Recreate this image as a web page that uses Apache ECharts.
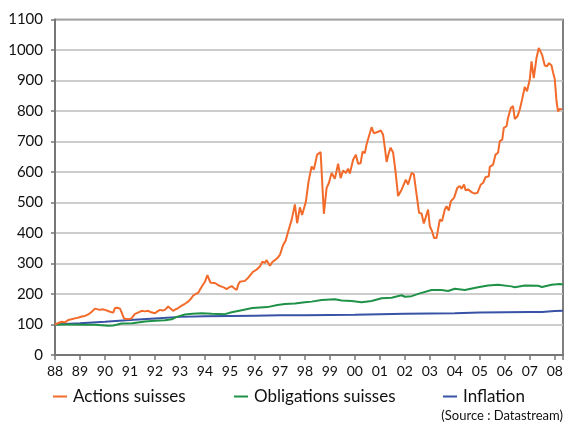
<!DOCTYPE html>
<html><head><meta charset="utf-8">
<script src="https://cdn.jsdelivr.net/npm/echarts@6/dist/echarts.min.js"></script>
<style>html,body{margin:0;padding:0;background:#fff}#c{width:568px;height:432px}</style>
</head><body><div id="c"></div>
<script>
const yTicks = [0,100,200,300,400,500,600,700,800,900,1000,1100];
const seriesNames = ['Actions suisses','Obligations suisses','Inflation'];
const actions = [[1988.0,100],[1988.1,104],[1988.27,109],[1988.4,107],[1988.53,115],[1988.7,118],[1988.8,120],[1988.95,123],[1989.07,126],[1989.2,128],[1989.33,133],[1989.47,142],[1989.6,152],[1989.67,156],[1989.8,148],[1989.9,150],[1990.0,148],[1990.1,145],[1990.2,142],[1990.33,139],[1990.4,154],[1990.5,155],[1990.6,152],[1990.67,139],[1990.76,120],[1990.85,118],[1990.93,118],[1991.05,119],[1991.1,120],[1991.2,135],[1991.3,138],[1991.47,145],[1991.6,143],[1991.73,145],[1991.85,140],[1992.0,137],[1992.1,143],[1992.2,148],[1992.3,146],[1992.4,148],[1992.53,159],[1992.63,152],[1992.73,145],[1992.83,150],[1992.93,154],[1993.0,156],[1993.07,162],[1993.2,168],[1993.33,175],[1993.45,185],[1993.53,195],[1993.63,200],[1993.73,204],[1993.87,224],[1994.0,240],[1994.1,262],[1994.18,245],[1994.23,237],[1994.4,236],[1994.55,228],[1994.67,224],[1994.77,221],[1994.87,216],[1994.97,222],[1995.07,226],[1995.17,219],[1995.27,213],[1995.33,230],[1995.4,240],[1995.6,243],[1995.75,255],[1995.93,273],[1996.07,280],[1996.2,290],[1996.3,306],[1996.4,302],[1996.47,311],[1996.6,293],[1996.7,305],[1996.8,311],[1996.9,318],[1997.0,328],[1997.13,361],[1997.23,375],[1997.33,404],[1997.47,443],[1997.6,494],[1997.69,432],[1997.8,484],[1997.89,459],[1998.04,503],[1998.15,570],[1998.27,618],[1998.36,608],[1998.49,657],[1998.63,665],[1998.76,463],[1998.87,548],[1998.96,564],[1999.07,597],[1999.2,578],[1999.33,627],[1999.43,580],[1999.53,605],[1999.64,597],[1999.73,611],[1999.8,595],[1999.93,640],[2000.04,657],[2000.13,627],[2000.23,629],[2000.31,667],[2000.4,662],[2000.47,691],[2000.53,697],[2000.67,747],[2000.76,727],[2000.93,732],[2001.04,736],[2001.13,722],[2001.2,680],[2001.27,633],[2001.35,660],[2001.43,680],[2001.53,664],[2001.63,600],[2001.73,521],[2001.87,542],[2002.04,575],[2002.13,559],[2002.27,597],[2002.36,593],[2002.44,591],[2002.57,466],[2002.67,464],[2002.76,431],[2002.93,477],[2003.0,422],[2003.09,406],[2003.17,384],[2003.27,384],[2003.4,444],[2003.49,439],[2003.6,477],[2003.67,488],[2003.76,474],[2003.84,504],[2003.97,515],[2004.1,548],[2004.2,554],[2004.27,545],[2004.37,559],[2004.43,540],[2004.53,543],[2004.67,534],[2004.8,529],[2004.91,532],[2005.04,559],[2005.13,564],[2005.23,583],[2005.36,586],[2005.4,617],[2005.53,624],[2005.63,657],[2005.73,663],[2005.8,701],[2005.9,706],[2005.96,745],[2006.07,750],[2006.13,777],[2006.24,810],[2006.33,816],[2006.4,774],[2006.51,783],[2006.6,805],[2006.69,837],[2006.8,879],[2006.89,865],[2007.0,903],[2007.07,963],[2007.16,908],[2007.27,974],[2007.36,1007],[2007.43,1012],[2007.49,985],[2007.6,949],[2007.69,947],[2007.77,957],[2007.87,949],[2007.93,927],[2008.0,905],[2008.07,832],[2008.13,799],[2008.2,807],[2008.29,805]];
const obligations = [[1988.0,100],[1988.6,100],[1989.2,99],[1989.6,99],[1990.13,96],[1990.33,97],[1990.67,103],[1991.1,104],[1991.6,110],[1992.0,112],[1992.4,114],[1992.67,117],[1992.87,125],[1993.2,133],[1993.5,135],[1993.87,137],[1994.27,135],[1994.8,134],[1995.07,140],[1995.47,147],[1995.9,154],[1996.5,157],[1996.9,164],[1997.2,167],[1997.6,169],[1998.0,173],[1998.27,175],[1998.67,180],[1999.2,183],[1999.47,179],[1999.87,177],[2000.27,173],[2000.67,177],[2001.07,186],[2001.47,188],[2001.87,196],[2002.0,191],[2002.27,193],[2002.6,202],[2003.07,213],[2003.47,213],[2003.73,210],[2004.0,217],[2004.4,213],[2004.93,222],[2005.33,228],[2005.73,230],[2006.27,225],[2006.4,222],[2006.8,228],[2007.33,227],[2007.49,223],[2007.87,230],[2008.2,233],[2008.33,231]];
const inflation = [[1988.0,100],[1989.0,104],[1990.0,109],[1991.0,115],[1992.0,120],[1993.0,125],[1994.0,127],[1995.0,128],[1996.0,129],[1997.0,130],[1998.0,130],[1999.0,131],[2000.0,132],[2001.0,134],[2002.0,135],[2003.0,136],[2004.0,137],[2005.0,139],[2006.0,140],[2007.0,141],[2007.5,141],[2008.0,144],[2008.33,145]];
const colors = ['#f26b2b','#1f9248','#3853a6'];
const FONT = 'Lato';

const chart = echarts.init(document.getElementById('c'), null, {renderer:'canvas'});
const mkLegend = (i, left) => ({
  data:[seriesNames[i]], left: left, top: 383, icon:'rect', itemWidth:14, itemHeight:2, itemGap:0,
  textStyle:{fontFamily:FONT, fontSize:17, color:'#111', padding:[0,0,0,1]},
  selectedMode:false
});
chart.setOption({
  animation:false,
  grid:{left:55, right:5, top:19.5, bottom:77, show:true, borderColor:'#555', borderWidth:1.5},
  legend:[mkLegend(0,48), mkLegend(1,229), mkLegend(2,438)],
  graphic:[{type:'text', right:5, top:409, style:{text:'(Source : Datastream)', fontFamily:FONT, fontSize:13, fill:'#111'}}],
  xAxis:{type:'value', min:1988, max:2008.33, interval:1,
    axisLine:{show:true, lineStyle:{color:'#777', width:2}},
    axisTick:{show:true, length:5, lineStyle:{color:'#777', width:1.5}},
    splitLine:{show:false},
    axisLabel:{fontFamily:FONT, fontSize:14, color:'#111', margin:9,
      formatter:v => (Math.abs(v-Math.round(v))<1e-6) ? String(Math.round(v)%100).padStart(2,'0') : ''}
  },
  yAxis:{type:'value', min:0, max:1100, interval:100,
    axisLine:{show:true, lineStyle:{color:'#777', width:2}},
    axisTick:{show:true, length:4, lineStyle:{color:'#777', width:1.5}},
    splitLine:{show:true, lineStyle:{color:'#bdbdbd', width:1.5}},
    axisLabel:{fontFamily:FONT, fontSize:15, color:'#111', margin:12,
      formatter:v => yTicks.includes(v) ? String(v) : ''}
  },
  series:[
    {name:seriesNames[0], type:'line', data:actions, showSymbol:false, lineStyle:{color:colors[0], width:2}, itemStyle:{color:colors[0]}, z:3},
    {name:seriesNames[1], type:'line', data:obligations, showSymbol:false, lineStyle:{color:colors[1], width:2}, itemStyle:{color:colors[1]}, z:2},
    {name:seriesNames[2], type:'line', data:inflation, showSymbol:false, lineStyle:{color:colors[2], width:2}, itemStyle:{color:colors[2]}, z:1}
  ]
});
</script></body></html>
